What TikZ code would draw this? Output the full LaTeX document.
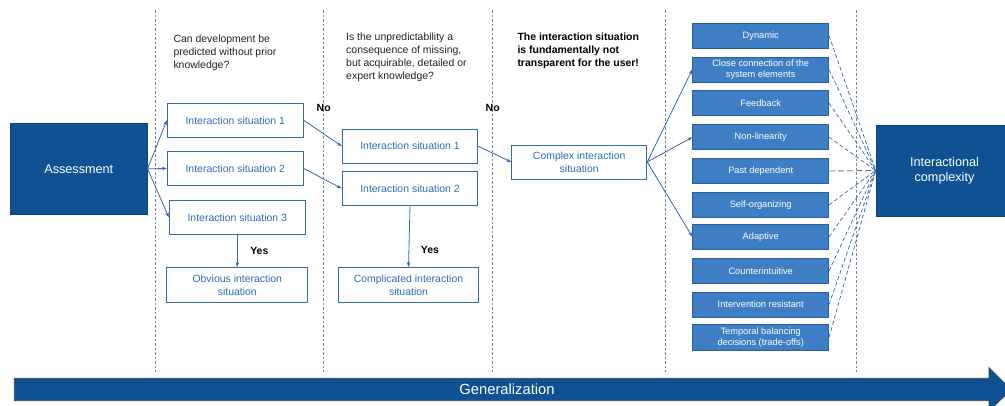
\documentclass[tikz,border=0pt]{standalone}
\usepackage{fontspec}
\setmainfont{Liberation Sans}
\usetikzlibrary{arrows.meta}
\definecolor{deepblue}{RGB}{15,82,148}
\definecolor{midblue}{RGB}{62,126,197}
\definecolor{midedge}{RGB}{46,95,154}
\definecolor{lineblue}{RGB}{52,104,168}
\definecolor{textblue}{RGB}{47,107,181}
\definecolor{sepgray}{RGB}{120,132,148}
\definecolor{inkgray}{RGB}{34,34,34}
\tikzset{
  bigbox/.style={fill=deepblue, draw=deepblue!80!black, line width=0.6bp, text=white,
    minimum width=137bp, minimum height=91bp, inner sep=0pt, align=center,
    font=\fontsize{12.7}{15}\selectfont},
  sitbox/.style={fill=white, draw=lineblue, line width=1bp, text=textblue,
    inner sep=0pt, align=center, font=\fontsize{10.5}{13}\selectfont},
  propbox/.style={fill=midblue, draw=midedge, line width=0.8bp, text=white,
    minimum width=136bp, minimum height=25bp, inner sep=0pt, align=center,
    font=\fontsize{9.3}{10.8}\selectfont},
  flow/.style={draw=lineblue, line width=0.8bp, -{Stealth[length=5bp,width=3.5bp]}},
  link/.style={draw=lineblue, line width=0.7bp, dash pattern=on 4bp off 2.5bp},
  sepline/.style={draw=sepgray, line width=0.8bp, dash pattern=on 2.5bp off 2bp},
  question/.style={text=inkgray, align=left, inner sep=0pt, anchor=west,
    font=\fontsize{10.5}{13}\selectfont},
  verdict/.style={text=black, inner sep=0pt, font=\bfseries\fontsize{10.5}{13}\selectfont}
}
\begin{document}
\begin{tikzpicture}[x=1bp,y=-1bp]
\useasboundingbox (0,0) rectangle (1005,405);
\clip (0,0) rectangle (1005,405);

% column separators
\foreach \sx in {155.7,323.7,492.7,665,856.7}
  \draw[sepline] (\sx,10) -- (\sx,372);

% generalization arrow
\draw[fill=deepblue, draw=black!75, line width=0.8bp]
  (14.3,378.3) -- (989,378.3) -- (989,367.7) -- (1011,389.5)
  -- (989,411.3) -- (989,400.7) -- (14.3,400.7) -- cycle;
\node[text=white, font=\fontsize{14.8}{17}\selectfont, inner sep=0pt] (gen) at (507,389.5) {Generalization};

% start and end
\node[bigbox] (assess) at (78.8,168.8) {Assessment};
\node[bigbox] (ic) at (944.5,170.5) {Interactional\\complexity};

% questions
\node[question] (q1) at (173.3,52.7) {Can development be\\predicted without prior\\knowledge?};
\node[question] (q2) at (346,57) {Is the unpredictability a\\consequence of missing,\\but acquirable, detailed or\\expert knowledge?};
\node[question, font=\bfseries\fontsize{10.5}{13}\selectfont, text=black] (q3) at (517.3,50.7)
  {The interaction situation\\is fundamentally not\\transparent for the user!};

% first stage
\node[sitbox, minimum width=136bp, minimum height=33.4bp] (a1) at (235.3,120.3) {Interaction situation 1};
\node[sitbox, minimum width=136bp, minimum height=33.4bp] (a2) at (235.3,168.5) {Interaction situation 2};
\node[sitbox, minimum width=136bp, minimum height=34bp] (a3) at (237.3,217.3) {Interaction situation 3};
\node[sitbox, minimum width=141.3bp, minimum height=34.6bp] (obv) at (237.3,285) {Obvious interaction\\situation};

% second stage
\node[sitbox, minimum width=135.4bp, minimum height=33.7bp] (b1) at (410,146.2) {Interaction situation 1};
\node[sitbox, minimum width=135.4bp, minimum height=33.7bp] (b2) at (410,188.5) {Interaction situation 2};
\node[sitbox, minimum width=140.4bp, minimum height=34.6bp] (comp) at (408.5,285) {Complicated interaction\\situation};

% third stage
\node[sitbox, minimum width=135bp, minimum height=34bp] (cx) at (579.2,162) {Complex interaction\\situation};

% properties
\node[propbox] (p1) at (760.7,35.8) {Dynamic};
\node[propbox] (p2) at (760.7,69.5) {Close connection of the\\system elements};
\node[propbox] (p3) at (760.7,103.2) {Feedback};
\node[propbox] (p4) at (760.7,137.2) {Non-linearity};
\node[propbox] (p5) at (760.7,171) {Past dependent};
\node[propbox] (p6) at (760.7,204.8) {Self-organizing};
\node[propbox] (p7) at (760.7,236.7) {Adaptive};
\node[propbox] (p8) at (760.7,270.7) {Counterintuitive};
\node[propbox] (p9) at (760.7,304.5) {Intervention resistant};
\node[propbox, minimum height=26bp] (p10) at (760.7,337.3) {Temporal balancing\\decisions (trade-offs)};

% decision labels
\node[verdict] (no1) at (323.7,108.3) {No};
\node[verdict] (no2) at (492.7,108.3) {No};
\node[verdict] (yes1) at (259.3,251) {Yes};
\node[verdict] (yes2) at (430,250) {Yes};

% flow arrows
\draw[flow] (assess.east) -- (a1.west);
\draw[flow] (assess.east) -- (a2.west);
\draw[flow] (assess.east) -- (a3.west);
\draw[flow] (a1.east) -- (b1.west);
\draw[flow] (a2.east) -- (b2.west);
\draw[flow] (a3.south) -- (obv.north);
\draw[flow] (b2.south) -- (comp.north);
\draw[flow] (b1.east) -- (cx.west);
\draw[flow] (cx.east) -- (p2.west);
\draw[flow] (cx.east) -- (p4.west);
\draw[flow] (cx.east) -- (p7.west);

% property links
\foreach \p in {p1,p2,p3,p4,p6,p7,p8,p9,p10}
  \draw[link] (\p.east) -- (ic.west);
\draw[draw=black!55, line width=0.9bp, dash pattern=on 6bp off 3bp] (p5.east) -- (ic.west);
\end{tikzpicture}
\end{document}
